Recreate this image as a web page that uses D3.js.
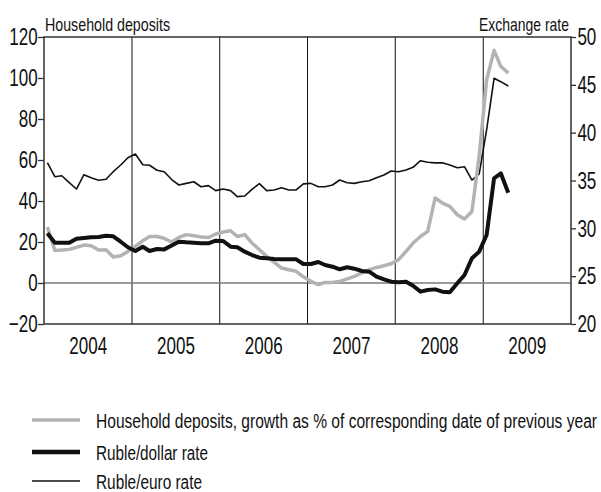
<!DOCTYPE html>
<html><head><meta charset="utf-8">
<script src="https://cdn.jsdelivr.net/npm/d3@7"></script>
<style>
body{margin:0;background:#fff;}
text{font-family:"Liberation Sans",Arial,sans-serif;fill:#111;}
</style></head>
<body><svg id="c" width="601" height="492"></svg>
<script>
// Monthly data, Jan 2004 .. Apr 2009
const deposits = [27.3,15.9,16.1,16.4,17.4,18.5,18.2,16.1,16.2,12.7,13.3,15.4,
  17.9,20.6,22.7,22.7,21.8,20.0,22.2,23.6,23.1,22.4,22.2,23.9,
  24.9,25.5,22.7,23.6,19.5,16.2,13.0,10.2,7.3,6.5,5.7,3.0,
  0.8,-0.8,0.3,0.3,0.8,2.0,3.2,4.9,6.5,7.6,8.4,9.4,
  11.4,15.4,19.5,22.7,25.2,41.5,39.0,37.4,33.3,31.2,34.9,62.0,
  99.0,113.5,105.7,102.4];
const usdRate = [29.48,28.50,28.50,28.50,28.92,28.99,29.06,29.09,29.23,29.17,28.60,28.02,
  27.63,28.08,27.63,27.84,27.80,28.20,28.60,28.54,28.50,28.43,28.43,28.71,
  28.68,28.08,28.02,27.56,27.21,26.93,26.87,26.79,26.76,26.76,26.76,26.27,
  26.27,26.48,26.17,25.99,25.72,25.93,25.78,25.54,25.47,24.95,24.67,24.42,
  24.36,24.42,24.00,23.38,23.55,23.62,23.38,23.31,24.25,25.12,26.87,27.56,
  29.30,35.23,35.75,33.72];
const eurRate = [36.86,35.40,35.50,34.77,34.11,35.61,35.29,35.02,35.13,35.92,36.62,37.38,
  37.77,36.65,36.59,36.07,35.92,35.10,34.53,34.70,34.87,34.35,34.46,33.94,
  34.11,33.94,33.31,33.38,34.08,34.67,33.94,34.01,34.25,34.01,34.01,34.65,
  34.70,34.35,34.35,34.53,35.05,34.77,34.70,34.87,34.98,35.29,35.57,35.99,
  35.92,36.10,36.38,37.07,36.90,36.84,36.86,36.62,36.34,36.44,35.05,35.68,
  40.30,45.68,45.33,44.88];
const years = [2004,2005,2006,2007,2008,2009];
const leftTicks = [-20,0,20,40,60,80,100,120];
const rightTicks = [20,25,30,35,40,45,50];
const legendLabels = ["Household deposits, growth as % of corresponding date of previous year",
  "Ruble/dollar rate","Ruble/euro rate"];

const months = deposits.map((d,i)=>new Date(2004, i, 15));

const svg = d3.select("#c");
const L=44, R=571, T=37, B=324;
const x = d3.scaleTime().domain([new Date(2004,0,1), new Date(2010,0,1)]).range([L,R]);
const yL = d3.scaleLinear().domain([-20,120]).range([B,T]);
const yR = d3.scaleLinear().domain([20,50]).range([B,T]);
const NUM_SIZE = 24, SX = 0.71;

// year separators
svg.append("g").selectAll("line").data(years.slice(1)).join("line")
  .attr("x1",d=>x(new Date(d,0,1))).attr("x2",d=>x(new Date(d,0,1)))
  .attr("y1",T).attr("y2",B).attr("stroke","#111").attr("stroke-width",1);

// zero line
svg.append("line").attr("x1",L).attr("x2",R).attr("y1",yL(0)).attr("y2",yL(0))
  .attr("stroke","#7a7a7a").attr("stroke-width",1.5);

// frame
svg.append("rect").attr("x",L).attr("y",T).attr("width",R-L).attr("height",B-T)
  .attr("fill","none").attr("stroke","#333").attr("stroke-width",1.5);

// axes
const axL = svg.append("g").attr("transform",`translate(${L},0)`)
  .call(d3.axisLeft(yL).tickValues(leftTicks).tickSize(6).tickPadding(3));
const axR = svg.append("g").attr("transform",`translate(${R},0)`)
  .call(d3.axisRight(yR).tickValues(rightTicks).tickSize(5).tickPadding(4));
[axL,axR].forEach(a=>{
  a.select(".domain").remove();
  a.selectAll("line").attr("stroke","#333").attr("stroke-width",1.3);
  a.selectAll("text").attr("font-size",NUM_SIZE).style("font-family",'"Liberation Sans",Arial,sans-serif')
   .attr("fill","#111").attr("transform",`scale(${SX},1)`);
});

// year labels
const axB = svg.append("g").attr("transform",`translate(0,${B})`)
  .call(d3.axisBottom(x).tickValues(years.map(d=>new Date(d,6,1))).tickSize(0).tickPadding(13)
    .tickFormat(d3.timeFormat("%Y")));
axB.select(".domain").remove();
axB.selectAll("text").attr("font-size",NUM_SIZE).style("font-family",'"Liberation Sans",Arial,sans-serif')
  .attr("fill","#111").attr("transform",`scale(${SX},1)`);

// lines
const lineL = d3.line().x((d,i)=>x(months[i])).y(d=>yL(d));
const lineR = d3.line().x((d,i)=>x(months[i])).y(d=>yR(d));
svg.append("path").datum(eurRate).attr("d",lineR).attr("fill","none")
  .attr("stroke","#111").attr("stroke-width",1.6).attr("stroke-linejoin","round");
svg.append("path").datum(deposits).attr("d",lineL).attr("fill","none")
  .attr("stroke","#b3b3b3").attr("stroke-width",3.5).attr("stroke-linejoin","round");
svg.append("path").datum(usdRate).attr("d",lineR).attr("fill","none")
  .attr("stroke","#111").attr("stroke-width",4).attr("stroke-linejoin","round");

// axis titles
svg.append("text").attr("x",45).attr("y",31).attr("font-size",19)
  .attr("textLength",125).attr("lengthAdjust","spacingAndGlyphs").text("Household deposits");
svg.append("text").attr("x",479).attr("y",31).attr("font-size",19)
  .attr("textLength",90).attr("lengthAdjust","spacingAndGlyphs").text("Exchange rate");

// legend
const legStyles = [{c:"#b3b3b3",w:3.5},{c:"#111",w:4.5},{c:"#111",w:1.5}];
const legY = [420,452,481];
const legW = [501,112,106];
const leg = svg.append("g");
legendLabels.forEach((lab,i)=>{
  leg.append("line").attr("x1",32).attr("x2",80).attr("y1",legY[i]).attr("y2",legY[i])
    .attr("stroke",legStyles[i].c).attr("stroke-width",legStyles[i].w);
  leg.append("text").attr("x",96).attr("y",legY[i]+7.5).attr("font-size",20)
    .attr("textLength",legW[i]).attr("lengthAdjust","spacingAndGlyphs").text(lab);
});
</script></body></html>
